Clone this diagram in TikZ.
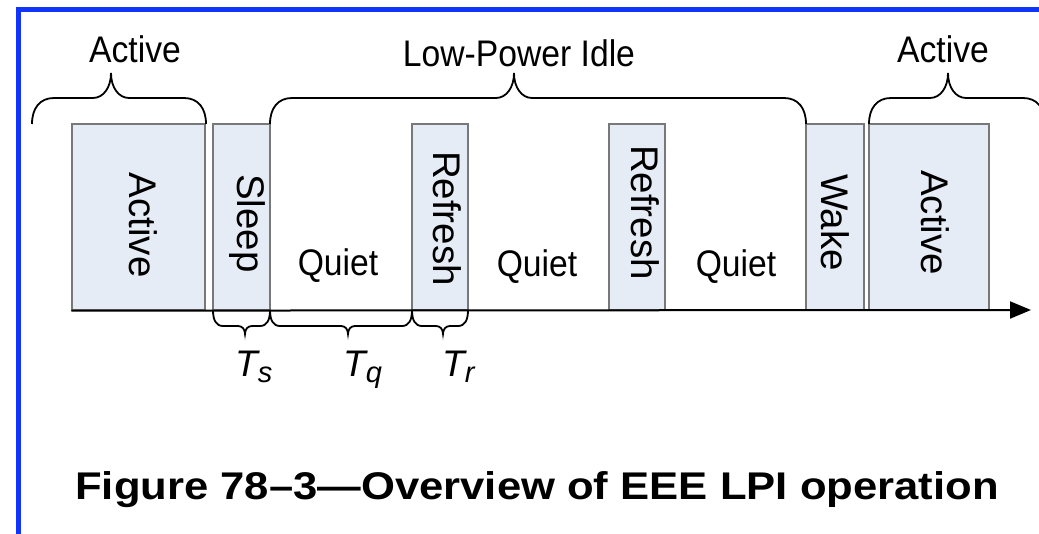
\documentclass[tikz,border=0pt]{standalone}
\usepackage{fontspec}
\usepackage{graphicx}
\setmainfont{Liberation Sans}
\usetikzlibrary{arrows.meta}
\definecolor{framebl}{RGB}{16,52,250}
\definecolor{boxfill}{RGB}{230,236,246}
\definecolor{boxedge}{RGB}{120,120,120}
\newcommand\hsq[1]{\scalebox{0.91}[1]{#1}}
% top curly brace: left end x, right end x, tip x
\newcommand\topbrace[3]{%
  \draw[brace] (#1,124) .. controls (#1,108) and (#1+8,98) .. (#1+22,98)
    -- (#3-18,98) .. controls (#3-8,98) and (#3,88) .. (#3,73)
    .. controls (#3,88) and (#3+8,98) .. (#3+18,98)
    -- (#2-22,98) .. controls (#2-8,98) and (#2,108) .. (#2,124);}
% bottom curly brace: left end x, right end x, tip x
\newcommand\botbrace[3]{%
  \draw[brace] (#1,310) .. controls (#1,320) and (#1+3,326) .. (#1+10,326)
    -- (#3-7,326) .. controls (#3-3,326) and (#3,329) .. (#3,334)
    .. controls (#3,329) and (#3+3,326) .. (#3+7,326)
    -- (#2-10,326) .. controls (#2-3,326) and (#2,320) .. (#2,310);}
\begin{document}
\begin{tikzpicture}[x=1pt,y=-1pt,
  frameline/.style={draw=framebl,line width=5pt},
  phase/.style={draw=boxedge,fill=boxfill,line width=1.3pt,rectangle,inner sep=0pt,minimum height=186pt},
  vtext/.style={rotate=-90,font=\fontsize{38.5}{40}\selectfont,inner sep=0pt},
  htext/.style={font=\fontsize{37}{40}\selectfont,inner sep=0pt},
  tlabel/.style={font=\fontsize{37}{40}\selectfont\itshape,inner sep=0pt,anchor=base west},
  brace/.style={draw=black,line width=1.8pt},
  axis/.style={draw=black,line width=2pt,-{Triangle[length=21pt,width=17pt]}},
]
\useasboundingbox (0,0) rectangle (1039,534);
\clip (0,0) rectangle (1039,534);
% frame
\draw[frameline] (18.5,534) -- (18.5,9.5) -- (1045,9.5);
% phase boxes
\node[phase,minimum width=133pt] (act1) at (138.5,217) {};
\node[phase,minimum width=57pt] (sleep) at (241.5,217) {};
\node[phase,minimum width=56pt] (ref1) at (440,217) {};
\node[phase,minimum width=56pt] (ref2) at (637,217) {};
\node[phase,minimum width=58pt] (wake) at (835,217) {};
\node[phase,minimum width=120pt] (act2) at (929,217) {};
% time axis
\coordinate (axstart) at (act1.south west);
\coordinate (axend) at (1031,310);
\draw[axis] (axstart) -- (axend);
% box texts
\node[vtext] (tact1) at (143.5,225) {Active};
\node[vtext] (tsleep) at (247.5,223.5) {Sleep};
\node[vtext] (tref1) at (447,218.5) {Refresh};
\node[vtext] (tref2) at (645,212.5) {Refresh};
\node[vtext] (twake) at (835.5,222.5) {Wake};
\node[vtext] (tact2) at (935,222.5) {Active};
\node[htext,anchor=base] (q1) at (338,276) {\hsq{Quiet}};
\node[htext,anchor=base] (q2) at (537,277) {\hsq{Quiet}};
\node[htext,anchor=base] (q3) at (736,277) {\hsq{Quiet}};
% top braces and labels
\topbrace{32}{206}{111}
\topbrace{270}{806}{514}
\topbrace{869}{1045}{948}
\node[htext,anchor=base] (lact1) at (135,63) {\hsq{Active}};
\node[htext,anchor=base] (llpi) at (519,67) {\hsq{Low-Power Idle}};
\node[htext,anchor=base] (lact2) at (943,63) {\hsq{Active}};
% bottom braces and labels
\botbrace{213}{270}{245}
\botbrace{270}{412}{348}
\botbrace{412}{468}{443}
\node[tlabel] (ts) at (235,377) {T\raisebox{-6pt}{\fontsize{29}{30}\selectfont s}};
\node[tlabel] (tq) at (343,377) {T\raisebox{-6pt}{\fontsize{29}{30}\selectfont q}};
\node[tlabel] (tr) at (442,377) {T\raisebox{-6pt}{\fontsize{29}{30}\selectfont r}};
% caption
\node[inner sep=0pt,anchor=base,font=\fontsize{38.6}{40}\selectfont\bfseries] (caption) at (537,499)
  {\scalebox{1.13}[1]{Figure 78--3---Overview of EEE LPI operation}};
\end{tikzpicture}
\end{document}
